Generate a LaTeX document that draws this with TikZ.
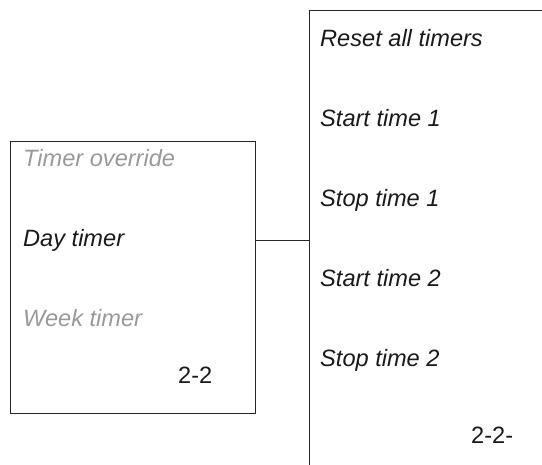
\documentclass[tikz,border=0pt]{standalone}
\usepackage{fontspec}
\setmainfont{Liberation Sans}
\newcommand\menusize{\fontsize{23.6}{28}\selectfont}
\tikzset{box/.style={draw=black!85,line width=.9pt,inner sep=0,outer sep=0,anchor=north west},
 it/.style={font=\menusize\itshape,anchor=base west,inner sep=0,text=black!90},
 dim/.style={it,text=black!40},
 num/.style={font=\menusize,anchor=base west,inner sep=0,text=black!90},
 wire/.style={draw=black!85,line width=.9pt}}
\begin{document}
\begin{tikzpicture}[x=1pt,y=-1pt]
\useasboundingbox (0,0) rectangle (542,465);
\clip (0,0) rectangle (542,465);
\node[box,minimum width=245pt,minimum height=272pt] (menu) at (10,141){};
\node[box,minimum width=260pt,minimum height=480pt] (sub) at (309,10){};
\node[dim] (ovr) at (23,167){Timer override};
\node[it] (day) at (23,247){Day timer};
\node[dim] (week) at (23,327){Week timer};
\node[num] (pg) at (178,384){2-2};
\foreach \t [count=\i] in {Reset all timers,Start time 1,Stop time 1,Start time 2,Stop time 2}
 \node[it] (s\i) at (320,{47+80*(\i-1)}){\t};
\node[num] (spg) at (471,444){2-2-};
\draw[wire](menu.east |- day)--(sub.west |- day);
\end{tikzpicture}
\end{document}
